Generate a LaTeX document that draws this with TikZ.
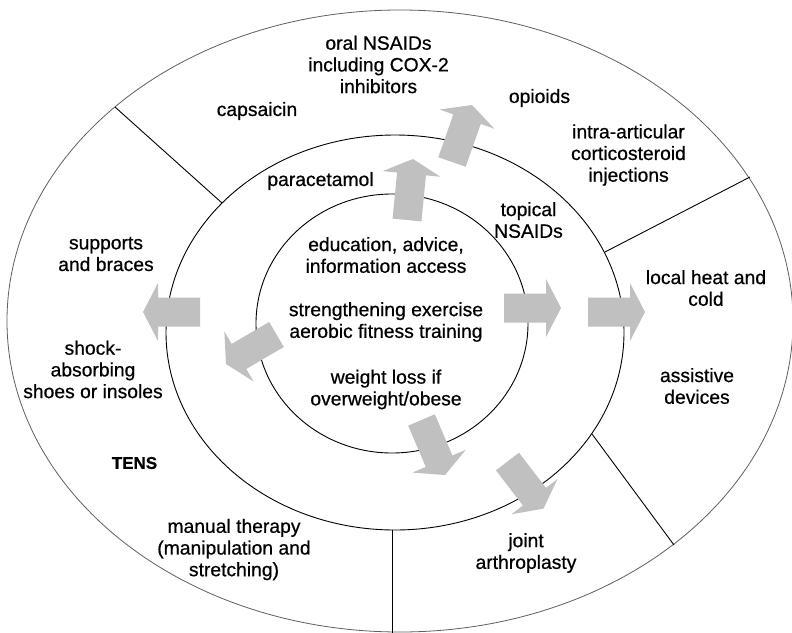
\documentclass[tikz,border=0pt]{standalone}
\usepackage{fontspec}
\setmainfont{Liberation Sans}[FakeBold=0.6]
\usetikzlibrary{calc}
\definecolor{arrowfillc}{RGB}{192,192,192}
\definecolor{ringgray}{RGB}{95,95,95}
\tikzset{
  lbl/.style={align=center, inner sep=0pt, font=\fontsize{19.3}{21.7}\selectfont},
  ring/.style={draw=black, line width=0.9pt},
  outerring/.style={draw=ringgray, line width=0.8pt},
  divider/.style={draw=black, line width=0.9pt},
  arrowbody/.style={fill=arrowfillc}
}
\newcommand{\blockarrow}[3]{%
  \coordinate (#1b) at ($(#3)!15pt!(#2)$);
  \fill[arrowbody]
    ($(#2)!14.5pt!90:(#3)$) --
    ($(#1b)!14.5pt!-90:(#2)$) --
    ($(#1b)!29pt!-90:(#2)$) --
    (#3) --
    ($(#1b)!29pt!90:(#2)$) --
    ($(#1b)!14.5pt!90:(#2)$) --
    ($(#2)!14.5pt!-90:(#3)$) -- cycle;
}
\begin{document}
\begin{tikzpicture}[x=1pt,y=-1pt]
\useasboundingbox (0,0) rectangle (792,632);
\fill[white] (0,0) rectangle (792,632);

% ring coordinates
\coordinate (d1m) at (222,203);
\coordinate (d1o) at (115,107);
\coordinate (d2m) at (605,252);
\coordinate (d2o) at (750,177);
\coordinate (d3m) at (592,434);
\coordinate (d3o) at (674,545);
\coordinate (d4m) at (392.5,530);
\coordinate (d4o) at (392.5,634);

\begin{scope}
\clip (0,0) rectangle (792,632);
\draw[outerring] (400,321) ellipse [x radius=393pt, y radius=311pt];
\draw[divider] (d4m) -- (d4o);
\end{scope}
\draw[ring] (395,332.5) ellipse [x radius=229pt, y radius=197.5pt];
\draw[ring] (392,323.5) ellipse [x radius=136pt, y radius=129.5pt];
\draw[divider] (d1m) -- (d1o);
\draw[divider] (d2m) -- (d2o);
\draw[divider] (d3m) -- (d3o);

% arrows
\coordinate (a1t) at (407,220);   \coordinate (a1h) at (413,159);
\coordinate (a2t) at (452,162);   \coordinate (a2h) at (472,105);
\coordinate (a3t) at (504,308);   \coordinate (a3h) at (561,308);
\coordinate (a4t) at (588,312);   \coordinate (a4h) at (645,312);
\coordinate (a5t) at (200,312);   \coordinate (a5h) at (143,312);
\coordinate (a6t) at (276.5,334.5); \coordinate (a6h) at (226,364);
\coordinate (a7t) at (421.5,420); \coordinate (a7h) at (445,475);
\coordinate (a8t) at (507.5,461.5); \coordinate (a8h) at (543.5,508.6);
\blockarrow{a1}{a1t}{a1h}
\blockarrow{a2}{a2t}{a2h}
\blockarrow{a3}{a3t}{a3h}
\blockarrow{a4}{a4t}{a4h}
\blockarrow{a5}{a5t}{a5h}
\blockarrow{a6}{a6t}{a6h}
\blockarrow{a7}{a7t}{a7h}
\blockarrow{a8}{a8t}{a8h}

% labels
\node[lbl] (oral) at (378.5,64.5) {oral NSAIDs\\including COX-2\\inhibitors};
\node[lbl] (caps) at (257,111) {capsaicin};
\node[lbl] (para) at (320.5,181) {paracetamol};
\node[lbl] (opio) at (539.5,98) {opioids};
\node[lbl] (intra) at (628.5,155) {intra-articular\\corticosteroid\\injections};
\node[lbl] (topi) at (528.5,220) {topical\\NSAIDs};
\node[lbl] (heat) at (706,288) {local heat and\\cold};
\node[lbl] (assi) at (697,386) {assistive\\devices};
\node[lbl] (join) at (526,553) {joint\\arthroplasty};
\node[lbl] (manu) at (234,549.5) {manual therapy\\(manipulation and\\stretching)};
\node[lbl, font=\fontsize{17}{20}\selectfont\bfseries] (tens) at (134.5,463) {TENS};
\node[lbl] (shoe) at (93,369.5) {shock-\\absorbing\\shoes or insoles};
\node[lbl] (supp) at (106,254) {supports\\and braces};
\node[lbl] (educ) at (386,255) {education, advice,\\information access};
\node[lbl] (stre) at (386,322) {strengthening exercise\\aerobic fitness training};
\node[lbl] (weig) at (386,389.5) {weight loss if\\overweight/obese};
\end{tikzpicture}
\end{document}
